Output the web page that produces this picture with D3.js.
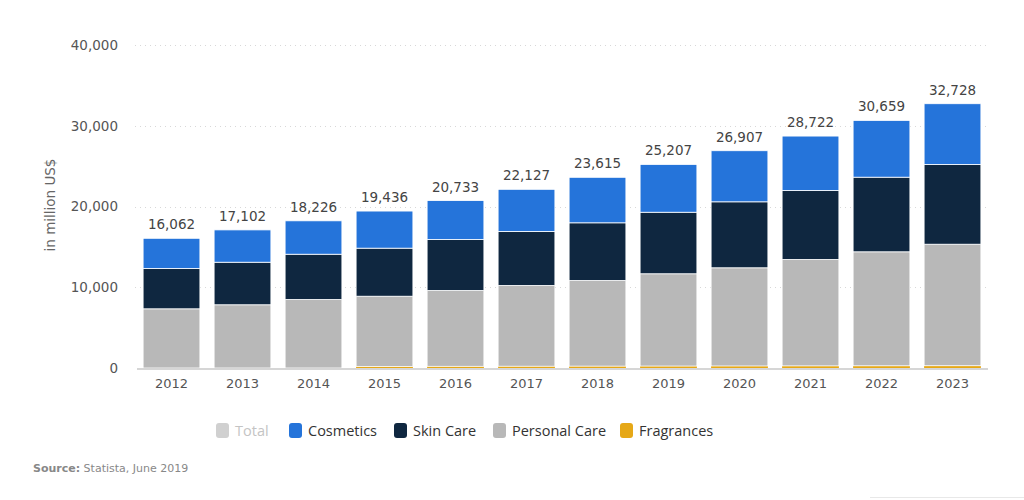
<!DOCTYPE html>
<html><head><meta charset="utf-8">
<script src="https://cdn.jsdelivr.net/npm/d3@7"></script>
<style>body{margin:0;background:#fff;}svg{display:block;font-family:"DejaVu Sans",Verdana,sans-serif;}</style>
</head><body><svg id="c" width="1024" height="500"></svg>
<script>
const years = ["2012","2013","2014","2015","2016","2017","2018","2019","2020","2021","2022","2023"];
const totals = [16062,17102,18226,19436,20733,22127,23615,25207,26907,28722,30659,32728];
const fragrances = [0,0,0,200,210,220,230,240,250,260,270,280];
const personalCare = [7330,7830,8480,8690,9390,10000,10610,11430,12160,13180,14120,15050];
const skinCare = [4990,5270,5610,5950,6310,6680,7140,7620,8170,8540,9240,9870];
const cosmetics = [3742,4002,4136,4596,4823,5227,5635,5917,6327,6742,7029,7528];
const yTicks = [0,10000,20000,30000,40000];
const seriesNames = ["Fragrances","Personal Care","Skin Care","Cosmetics"];
const colors = {"Fragrances":"#e6a817","Personal Care":"#b8b8b8","Skin Care":"#0f2740","Cosmetics":"#2574da"};
const legendItems = ["Total","Cosmetics","Skin Care","Personal Care","Fragrances"];
const legendColors = {"Total":"#d0d0d0","Cosmetics":"#2574da","Skin Care":"#0f2740","Personal Care":"#b8b8b8","Fragrances":"#e6a817"};

const rows = years.map((y,i)=>({year:y,"Fragrances":fragrances[i],"Personal Care":personalCare[i],"Skin Care":skinCare[i],"Cosmetics":cosmetics[i],total:totals[i]}));

const svg = d3.select("#c");
const x = d3.scaleBand().domain(years).range([136,988]).paddingInner(0.2).paddingOuter(0.1);
const y = d3.scaleLinear().domain([0,40000]).range([368,45]);

// gridlines
svg.append("g").selectAll("line").data(yTicks.filter(d=>d>0)).join("line")
  .attr("x1",135).attr("x2",988).attr("y1",d=>Math.round(y(d))+0.5).attr("y2",d=>Math.round(y(d))+0.5)
  .attr("stroke","#d8d8d8").attr("stroke-width",1).attr("stroke-dasharray","1,4");

// y axis
const yAxis = d3.axisLeft(y).tickValues(yTicks).tickFormat(d3.format(",")).tickSize(0).tickPadding(0);
const ya = svg.append("g").attr("transform","translate(118,0)").call(yAxis);
ya.select(".domain").remove();
ya.selectAll("text").attr("fill","#555").attr("font-size","13.5px").attr("font-family","DejaVu Sans");

svg.append("text").attr("transform","translate(55,205) rotate(-90)").attr("text-anchor","middle")
  .attr("fill","#666").attr("font-size","13.5px").text("in million US$");

// stacks
const stack = d3.stack().keys(seriesNames)(rows);
svg.append("g").selectAll("g").data(stack).join("g").attr("fill",d=>colors[d.key])
  .selectAll("rect").data(d=>d).join("rect")
  .attr("x",d=>x(d.data.year)).attr("width",x.bandwidth())
  .attr("y",d=>y(d[1])).attr("height",d=>Math.max(0,y(d[0])-y(d[1])))
  .attr("stroke","#fff").attr("stroke-width",d=>d[1]-d[0]<500?0:0.8);

// x axis
const xAxis = d3.axisBottom(x).tickSize(0).tickPadding(10);
const xa = svg.append("g").attr("transform","translate(0,369)").call(xAxis);
xa.select(".domain").attr("stroke","#c8c8c8").attr("stroke-width",1.5).attr("d","M137,0H988");
xa.selectAll("text").attr("fill","#555").attr("font-size","13px").attr("font-family","DejaVu Sans");

// totals labels
svg.append("g").selectAll("text").data(rows).join("text")
  .attr("x",d=>x(d.year)+x.bandwidth()/2).attr("y",d=>y(d.total)-9)
  .attr("text-anchor","middle").attr("fill","#444").attr("font-size","13.5px")
  .text(d=>d3.format(",")(d.total));

// legend
const legX = [216,289,394,493,620];
const lg = svg.append("g").selectAll("g").data(legendItems).join("g")
  .attr("transform",(d,i)=>`translate(${legX[i]},423)`);
lg.append("rect").attr("width",13).attr("height",15).attr("rx",3).attr("fill",d=>legendColors[d]);
lg.append("text").attr("x",19).attr("y",12.5).attr("font-size","14.5px").attr("font-family","Open Sans")
  .attr("fill",d=>d==="Total"?"#c4c4c4":"#333").text(d=>d);

// source
const src = svg.append("text").attr("x",33).attr("y",472).attr("font-size","11px").attr("fill","#888");
src.append("tspan").attr("font-weight","bold").text("Source:");
src.append("tspan").text(" Statista, June 2019");

svg.append("line").attr("x1",870).attr("x2",1024).attr("y1",497.5).attr("y2",497.5).attr("stroke","#e8e8e8");
</script></body></html>
